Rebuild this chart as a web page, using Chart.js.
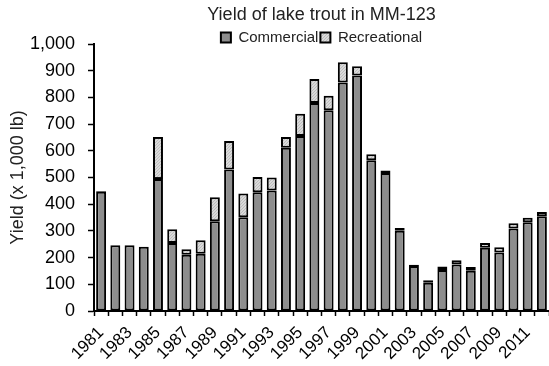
<!DOCTYPE html>
<html lang="en">
<head>
    <meta charset="UTF-8">
    <title>Yield of lake trout in MM-123</title>
    <script src="https://cdn.jsdelivr.net/npm/chart.js"></script>
    <style>
        html, body { margin: 0; padding: 0; background: #fff; }
        #wrap { width: 549px; height: 366px; }
    </style>
</head>
<body>
    <div id="wrap"><canvas id="yieldChart" width="549" height="366"></canvas></div>

    <script>
        // Years 1981-2012
        const years = [
            "1981", "1982", "1983", "1984", "1985", "1986", "1987", "1988",
            "1989", "1990", "1991", "1992", "1993", "1994", "1995", "1996",
            "1997", "1998", "1999", "2000", "2001", "2002", "2003", "2004",
            "2005", "2006", "2007", "2008", "2009", "2010", "2011", "2012"
        ];

        // Yield in 1,000 lb
        const commercial = [
            447, 246, 246, 241, 494, 255, 211, 214,
            336, 530, 351, 445, 451, 611, 655, 779,
            752, 856, 882, 565, 517, 301, 169, 106,
            154, 174, 151, 237, 219, 309, 332, 355
        ];
        const recreational = [
            2, 0, 0, 0, 158, 51, 20, 51,
            90, 107, 89, 57, 49, 41, 84, 90,
            54, 76, 35, 22, 9, 10, 4, 9,
            13, 16, 14, 18, 20, 20, 17, 16
        ];

        const yTicks = [0, 100, 200, 300, 400, 500, 600, 700, 800, 900, 1000];

        // light dotted fill for the recreational part
        function dotPattern() {
            const c = document.createElement("canvas");
            c.width = 3; c.height = 3;
            const g = c.getContext("2d");
            g.fillStyle = "#dadada";
            g.fillRect(0, 0, 3, 3);
            g.fillStyle = "#bcbcbc";
            g.fillRect(0, 0, 1, 1);
            g.fillRect(2, 1, 1, 1);
            g.fillRect(1, 2, 1, 1);
            return g.createPattern(c, "repeat");
        }

        Chart.defaults.font.family = "'Liberation Sans', Arial, sans-serif";
        Chart.defaults.color = "#000";

        const ctx = document.getElementById("yieldChart").getContext("2d");
        new Chart(ctx, {
            type: "bar",
            data: {
                labels: years,
                datasets: [
                    {
                        label: "Commercial",
                        data: commercial,
                        backgroundColor: "#8d8d8d",
                        borderColor: "#000",
                        borderWidth: 2,
                        borderSkipped: false
                    },
                    {
                        label: "Recreational",
                        data: recreational,
                        backgroundColor: dotPattern(),
                        borderColor: "#000",
                        borderWidth: 2,
                        borderSkipped: false
                    }
                ]
            },
            options: {
                responsive: false,
                animation: false,
                layout: { padding: { left: 7, right: 0, top: 2, bottom: 0 } },
                datasets: {
                    bar: { categoryPercentage: 1.0, barPercentage: 0.7 }
                },
                plugins: {
                    title: {
                        display: true,
                        fullSize: false,
                        text: "Yield of lake trout in MM-123",
                        font: { size: 18, weight: "normal", lineHeight: 1.0 },
                        color: "#222",
                        padding: { top: 4, bottom: 4 }
                    },
                    legend: {
                        display: true,
                        fullSize: false,
                        maxHeight: 16,
                        labels: {
                            boxWidth: 10,
                            boxHeight: 10,
                            padding: 2,
                            font: { size: 15 },
                            color: "#222"
                        }
                    },
                    tooltip: { enabled: false }
                },
                scales: {
                    x: {
                        stacked: true,
                        afterFit: function (scale) {
                            scale.paddingRight = 0;
                            scale.height = 55;
                        },
                        grid: {
                            drawOnChartArea: false,
                            offset: true,
                            color: "#000",
                            tickLength: 5,
                            tickWidth: 1.5
                        },
                        border: { color: "#000", width: 2 },
                        ticks: {
                            autoSkip: false,
                            maxRotation: 45,
                            minRotation: 45,
                            padding: 8,
                            font: { size: 17, lineHeight: 1.0 },
                            callback: function (value, index) {
                                return index % 2 === 0 ? years[index] : "";
                            }
                        }
                    },
                    y: {
                        stacked: true,
                        min: 0,
                        max: 1000,
                        afterBuildTicks: function (axis) {
                            axis.ticks = yTicks.map(v => ({ value: v }));
                        },
                        afterFit: function (scale) {
                            scale.width = 87;
                        },
                        grid: {
                            drawOnChartArea: false,
                            color: "#000",
                            tickLength: 6,
                            tickWidth: 1.5
                        },
                        border: { color: "#000", width: 2 },
                        ticks: {
                            padding: 13,
                            font: { size: 18 },
                            callback: v => v.toLocaleString("en-US")
                        },
                        title: {
                            display: true,
                            text: "Yield (x 1,000 lb)",
                            font: { size: 18 },
                            color: "#222",
                            padding: { top: 0, bottom: 0 }
                        }
                    }
                }
            }
        });
    </script>
</body>
</html>
